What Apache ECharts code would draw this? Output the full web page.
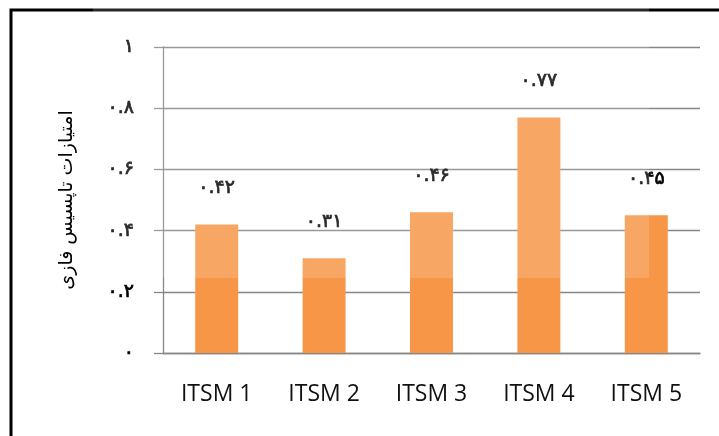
<!DOCTYPE html>
<html>
<head>
<meta charset="utf-8">
<script src="https://cdn.jsdelivr.net/npm/echarts@6/dist/echarts.min.js"></script>
<style>
  html, body { margin: 0; padding: 0; background: #fff; }
  #main { width: 719px; height: 436px; }
</style>
</head>
<body>
<div id="main"></div>
<script>
// داده‌ها
var categories = ['ITSM 1', 'ITSM 2', 'ITSM 3', 'ITSM 4', 'ITSM 5'];
var scores = [0.42, 0.31, 0.46, 0.77, 0.45];
var yTicks = [0, 0.2, 0.4, 0.6, 0.8, 1];
var yTitle = 'امتیازات تاپسیس فازی';

// ارقام فارسی
var faDigits = ['۰', '۱', '۲', '۳', '۴', '۵', '۶', '۷', '۸', '۹'];
function toFa(str) {
  return String(str).replace(/[0-9]/g, function (d) { return faDigits[+d]; });
}

var chartDom = document.getElementById('main');
var myChart = echarts.init(chartDom);
var option = {
  animation: false,
  backgroundColor: '#fff',
  grid: { left: 163, right: 19, top: 47, bottom: 83 },
  xAxis: {
    type: 'category',
    data: categories,
    axisLine: { lineStyle: { color: '#868686', width: 1.3 } },
    axisTick: { show: false },
    axisLabel: {
      margin: 30,
      color: '#111',
      fontSize: 23,
      fontFamily: 'Open Sans'
    }
  },
  yAxis: {
    type: 'value',
    min: yTicks[0],
    max: yTicks[yTicks.length - 1],
    interval: 0.2,
    name: yTitle,
    nameLocation: 'middle',
    nameGap: 86,
    nameTextStyle: { color: '#000', fontSize: 19, fontFamily: 'DejaVu Sans' },
    axisLine: { show: true, lineStyle: { color: '#868686', width: 1.3 } },
    axisTick: { show: true, length: 9, lineStyle: { color: '#868686', width: 1.3 } },
    splitLine: { lineStyle: { color: '#868686', width: 1.3 } },
    axisLabel: {
      margin: 29,
      color: '#000',
      fontSize: 19,
      fontFamily: 'DejaVu Sans',
      textBorderColor: '#000',
      textBorderWidth: 0.7,
      formatter: function (v) {
        var i = yTicks.indexOf(Math.round(v * 10) / 10);
        var t = i >= 0 ? yTicks[i] : v;
        return toFa(t === 0 || t === 1 ? String(t) : t.toFixed(1));
      }
    }
  },
  series: [
    {
      type: 'bar',
      data: scores,
      barWidth: '40%',
      itemStyle: { color: '#F79646' },
      label: {
        show: true,
        position: 'top',
        distance: 27,
        color: '#000',
        fontSize: 19,
        fontFamily: 'DejaVu Sans',
        textBorderColor: '#000',
        textBorderWidth: 0.7,
        formatter: function (p) { return toFa(p.value.toFixed(2)); }
      }
    }
  ],
  graphic: [
    // قاب دور نمودار
    {
      type: 'polyline',
      shape: { points: [[11, 436], [11, 10], [719, 10]] },
      style: { stroke: '#000', lineWidth: 3, fill: null },
      z: 10
    },
    // لایه‌ی کم‌رنگ واترمارک
    {
      type: 'rect',
      shape: { x: 93, y: 0, width: 556, height: 278 },
      style: { fill: 'rgba(255,255,255,0.16)' },
      z: 20
    }
  ]
};
myChart.setOption(option);
</script>
</body>
</html>
